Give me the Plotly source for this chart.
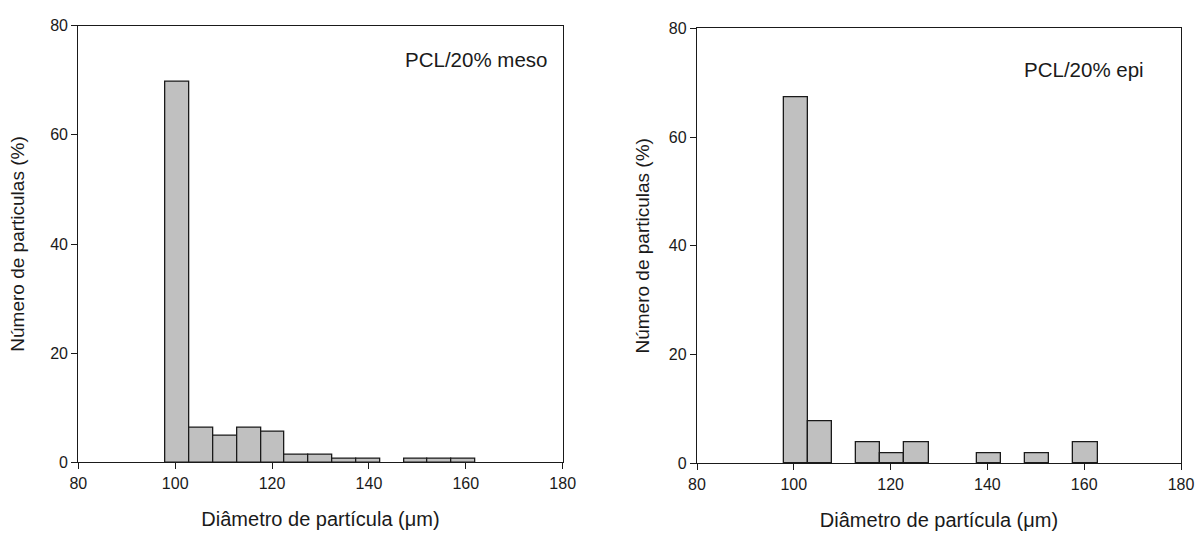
import plotly.graph_objects as go
from plotly.subplots import make_subplots

# Left panel: PCL/20% meso (None = empty bin)
meso_centers = [100.46, 105.38, 110.30, 115.22, 120.14, 125.06, 129.98,
                134.90, 139.82, 144.74, 149.66, 154.58, 159.50]
meso_values = [69.7, 6.3, 4.9, 6.3, 5.6, 1.4, 1.4, 0.7, 0.7, None, 0.7, 0.7, 0.7]
meso_width = 4.92

# Right panel: PCL/20% epi
epi_centers = [100.40, 105.39, 110.38, 115.37, 120.36, 125.35, 130.34,
               135.33, 140.32, 145.31, 150.30, 155.29, 160.28]
epi_values = [67.3, 7.7, None, 3.8, 1.9, 3.8, None, None, 1.9, None, 1.9, None, 3.8]
epi_width = 4.99

x_ticks = [80, 100, 120, 140, 160, 180]
y_ticks = [0, 20, 40, 60, 80]
x_title = "Diâmetro de partícula (μm)"
y_title = "Número de particulas (%)"
labels = ["PCL/20% meso", "PCL/20% epi"]

FONT = "Liberation Sans, Arial, sans-serif"
W, H = 1196, 536

fig = make_subplots(rows=1, cols=2)

bar_style = dict(marker=dict(color="#c0c0c0", line=dict(color="#1a1a1a", width=1.3)),
                 showlegend=False, hoverinfo="x+y")
fig.add_trace(go.Bar(x=meso_centers, y=meso_values,
                     width=[meso_width] * len(meso_centers), **bar_style), row=1, col=1)
fig.add_trace(go.Bar(x=epi_centers, y=epi_values,
                     width=[epi_width] * len(epi_centers), **bar_style), row=1, col=2)

axis_common = dict(showgrid=False, zeroline=False, showline=True, linecolor="#1a1a1a",
                   linewidth=1.3, mirror=True, ticks="outside", ticklen=6,
                   tickcolor="#1a1a1a", tickwidth=1.2, automargin=False,
                   tickfont=dict(family=FONT, size=16, color="#1a1a1a"))

fig.update_xaxes(range=[80, 180], tickvals=x_ticks, **axis_common)
fig.update_yaxes(range=[0, 80], tickvals=y_ticks, **axis_common)

fig.update_layout(
    width=W, height=H,
    margin=dict(l=0, r=0, t=0, b=0, autoexpand=False),
    paper_bgcolor="white", plot_bgcolor="white",
    bargap=0,
    font=dict(family=FONT, color="#1a1a1a"),
    xaxis=dict(domain=[78.3 / W, 562.7 / W],
               title=dict(text=x_title, font=dict(size=20), standoff=21)),
    xaxis2=dict(domain=[697.0 / W, 1181.0 / W],
                title=dict(text=x_title, font=dict(size=20), standoff=21)),
    yaxis=dict(domain=[(H - 462.3) / H, (H - 25.7) / H],
               title=dict(text=y_title, font=dict(size=19), standoff=20)),
    yaxis2=dict(domain=[(H - 463.3) / H, (H - 28.3) / H],
                title=dict(text=y_title, font=dict(size=19), standoff=14)),
    annotations=[
        dict(text=labels[0], x=549 / W, y=1 - 60 / H, xref="paper", yref="paper",
             xanchor="right", yanchor="middle", showarrow=False,
             font=dict(family=FONT, size=20.5, color="#1a1a1a")),
        dict(text=labels[1], x=1146 / W, y=1 - 69 / H, xref="paper", yref="paper",
             xanchor="right", yanchor="middle", showarrow=False,
             font=dict(family=FONT, size=20.5, color="#1a1a1a")),
    ],
)

fig.write_html("out.html")
